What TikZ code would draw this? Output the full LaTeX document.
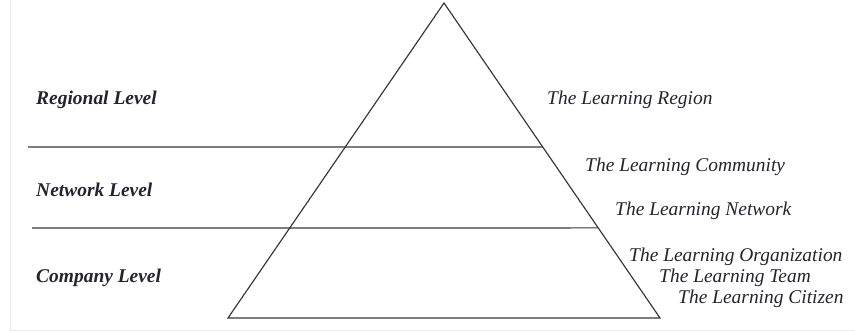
\documentclass[tikz,border=0pt]{standalone}
\usepackage{fontspec}
\setmainfont{Liberation Serif}
\usepackage{xcolor}
\usetikzlibrary{calc, positioning}
\definecolor{lineink}{RGB}{55, 55, 55}
\definecolor{textink}{RGB}{35, 35, 45}

\begin{document}
\begin{tikzpicture}[
  x=0.03cm, y=0.03cm,
  edge/.style={draw=lineink, line width=1pt},
  level/.style={anchor=west, inner sep=0pt, text=textink, font=\fontsize{16.6}{19}\selectfont\bfseries\itshape},
  kind/.style={anchor=west, inner sep=0pt, text=textink, font=\fontsize{16.6}{19}\selectfont\itshape}
]
\useasboundingbox (0,0) rectangle (855,333);

% faint frame of the scan
\draw[black!8, line width=0.6pt] (10,333) -- (10,3) -- (855,3);

% Pyramid corners
\coordinate (apex) at (444, 330);
\coordinate (bl)   at (228, 15);
\coordinate (br)   at (660, 15);

% where the level lines meet the right side
\coordinate (r1) at ($(apex)!0.457!(br)$);
\coordinate (r2) at ($(apex)!0.714!(br)$);
\coordinate (l1) at (28, 186);
\coordinate (l2) at (32, 105);

\draw[edge, line join=miter] (apex) -- (bl) -- (br) -- cycle;
\draw[edge] (l1) -- (r1);
\draw[edge] (l2) -- (r2);

% Levels (left)
\node[level] (regional) at (36, 233) {Regional Level};
\node[level] (network)  at (36, 143) {Network Level};
\node[level] (company)  at (36, 55)  {Company Level};

% Learning units (right)
\node[kind] (region)    at (547, 233) {The Learning Region};
\node[kind] (community) at (585, 166) {The Learning Community};
\node[kind] (lnetwork)  at (615, 122) {The Learning Network};
\node[kind] (organ)     at (629, 76)  {The Learning Organization};
\node[kind] (team)      at (659, 55)  {The Learning Team};
\node[kind] (citizen)   at (678, 34)  {The Learning Citizen};

\end{tikzpicture}
\end{document}
